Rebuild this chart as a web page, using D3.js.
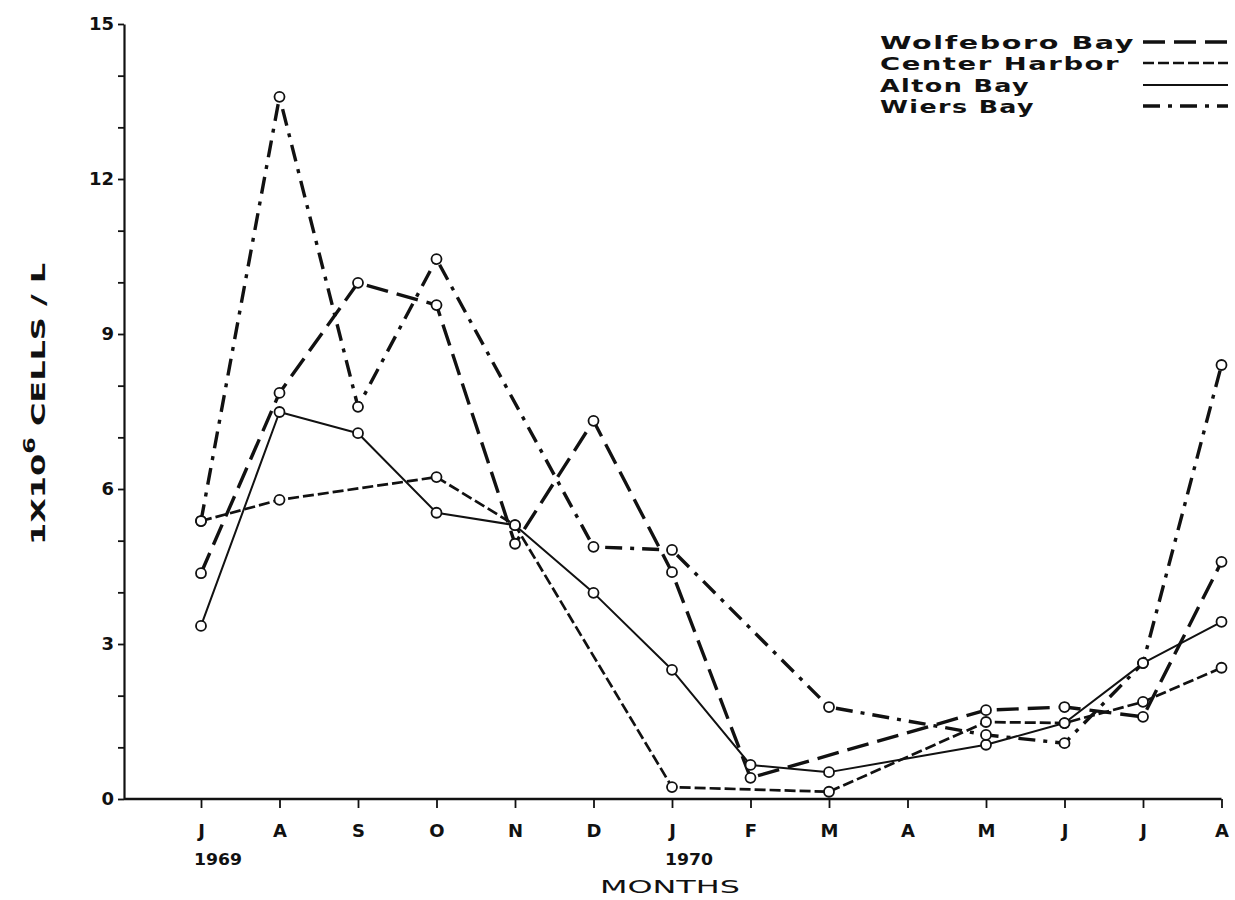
<!DOCTYPE html>
<html>
<head>
<meta charset="utf-8">
<script src="https://cdn.jsdelivr.net/npm/d3@7"></script>
<style>
  html, body { margin: 0; padding: 0; background: #fff; }
  svg text { font-family: "DejaVu Sans", sans-serif; fill: #111; }
</style>
</head>
<body>
<div id="chart"></div>
<script>
// month letters along the bottom, Jul 1969 .. Aug 1970
const months = ["J", "A", "S", "O", "N", "D", "J", "F", "M", "A", "M", "J", "J", "A"];
const yearIndex = [0, 6];
const yearLabels = ["1969", "1970"];
const yTickLabels = [0, 3, 6, 9, 12, 15];

// 1x10^6 cells / L, null = no sample that month
const wolfeboro    = [4.37, 7.86, 9.99, 9.56, 4.94, 7.32, 4.39, 0.41, null, null, 1.72, 1.78, 1.59, 4.59];
const centerHarbor = [5.38, 5.79, null, 6.23, 5.30, null, 0.23, null, 0.14, null, 1.49, 1.47, 1.88, 2.54];
const alton        = [3.35, 7.49, 7.08, 5.54, 5.30, 3.99, 2.50, 0.66, 0.52, null, 1.05, 1.47, 2.63, 3.43];
const wiers        = [5.38, 13.59, 7.59, 10.45, null, 4.88, 4.82, null, 1.78, null, 1.24, 1.08, 2.63, 8.40];

const seriesNames = ["Wolfeboro Bay", "Center Harbor", "Alton Bay", "Wiers Bay"];

const W = 1235, H = 900;
const svg = d3.select("#chart").append("svg")
  .attr("width", W)
  .attr("height", H);

svg.append("rect").attr("width", W).attr("height", H).attr("fill", "#fff");

const x = d3.scaleLinear().domain([0, months.length - 1]).range([201, 1221.5]);
const y = d3.scaleLinear().domain([0, 15]).range([799, 24]);

// line styles, same order as seriesNames
const styles = [
  { data: wolfeboro,    dash: "22,9",        width: 3.4 },
  { data: centerHarbor, dash: "11,4",        width: 2.7 },
  { data: alton,        dash: null,          width: 2.0 },
  { data: wiers,        dash: "17,8,4,8",    width: 3.4 }
];

// y axis
const yAxis = svg.append("g")
  .attr("transform", `translate(124,0)`)
  .call(d3.axisLeft(y)
    .tickValues(d3.range(0, 16))
    .tickSize(6)
    .tickSizeOuter(0)
    .tickPadding(4)
    .tickFormat(d => yTickLabels.includes(d) ? d : ""));
yAxis.select(".domain").attr("stroke", "#111").attr("stroke-width", 2.2);
yAxis.selectAll(".tick line").attr("stroke", "#111").attr("stroke-width", 1.8);
yAxis.selectAll(".tick text")
  .attr("font-size", 18).attr("font-weight", "bold")
  .style("font-family", "DejaVu Sans, sans-serif");

// x axis line runs from the y axis to the last month
svg.append("line")
  .attr("x1", 124).attr("x2", x(months.length - 1))
  .attr("y1", y(0)).attr("y2", y(0))
  .attr("stroke", "#111").attr("stroke-width", 2.6);

const xAxis = svg.append("g")
  .attr("transform", `translate(0,${y(0)})`)
  .call(d3.axisBottom(x)
    .tickValues(d3.range(months.length))
    .tickSize(9)
    .tickSizeOuter(0)
    .tickPadding(16)
    .tickFormat(i => months[i]));
xAxis.select(".domain").remove();
xAxis.selectAll(".tick line").attr("stroke", "#111").attr("stroke-width", 1.8);
xAxis.selectAll(".tick text")
  .attr("font-size", 18).attr("font-weight", "bold")
  .style("font-family", "DejaVu Sans, sans-serif");

// year labels under J
svg.selectAll(".year")
  .data(yearIndex)
  .enter().append("text")
  .attr("class", "year")
  .attr("x", d => x(d) - 7)
  .attr("y", 865)
  .attr("font-size", 15)
  .attr("font-weight", "bold")
  .attr("textLength", 48)
  .attr("lengthAdjust", "spacingAndGlyphs")
  .text((d, i) => yearLabels[i]);

// axis titles
svg.append("text")
  .attr("x", 600).attr("y", 893)
  .attr("font-size", 18)
  .attr("textLength", 140)
  .attr("lengthAdjust", "spacingAndGlyphs")
  .text("MONTHS");

const yl = svg.append("text")
  .attr("transform", "translate(45,545) rotate(-90)")
  .attr("font-size", 20)
  .attr("font-weight", "bold")
  .attr("textLength", 282)
  .attr("lengthAdjust", "spacingAndGlyphs");
yl.append("tspan").text("1X10");
yl.append("tspan").attr("dy", -10).attr("font-size", 15).text("6");
yl.append("tspan").attr("dy", 10).text(" CELLS / L");

// series lines, gaps bridged so missing months are skipped
const line = d3.line().x(d => x(d[0])).y(d => y(d[1]));

styles.forEach(s => {
  const pts = s.data.map((v, i) => [i, v]).filter(d => d[1] !== null);
  svg.append("path")
    .datum(pts)
    .attr("d", line)
    .attr("fill", "none")
    .attr("stroke", "#111")
    .attr("stroke-width", s.width)
    .attr("stroke-dasharray", s.dash)
    .attr("stroke-linejoin", "round");
});

// open circles at each sample
styles.forEach(s => {
  const pts = s.data.map((v, i) => [i, v]).filter(d => d[1] !== null);
  svg.selectAll(null)
    .data(pts)
    .enter().append("circle")
    .attr("cx", d => x(d[0]))
    .attr("cy", d => y(d[1]))
    .attr("r", 5)
    .attr("fill", "#fff")
    .attr("stroke", "#111")
    .attr("stroke-width", 1.8);
});

// legend
const legendY = [42, 63, 85, 106];
const legendW = [255, 240, 150, 155];
const legend = svg.selectAll(".legend")
  .data(seriesNames)
  .enter().append("g")
  .attr("class", "legend")
  .attr("transform", (d, i) => `translate(0,${legendY[i]})`);

legend.append("text")
  .attr("x", 880).attr("y", 7)
  .attr("font-size", 18)
  .attr("font-weight", "bold")
  .attr("letter-spacing", 1)
  .attr("textLength", (d, i) => legendW[i])
  .attr("lengthAdjust", "spacingAndGlyphs")
  .text(d => d);

legend.append("line")
  .attr("x1", 1143).attr("x2", 1228)
  .attr("y1", 0).attr("y2", 0)
  .attr("stroke", "#111")
  .attr("stroke-width", (d, i) => styles[i].width)
  .attr("stroke-dasharray", (d, i) => styles[i].dash);
</script>
</body>
</html>
